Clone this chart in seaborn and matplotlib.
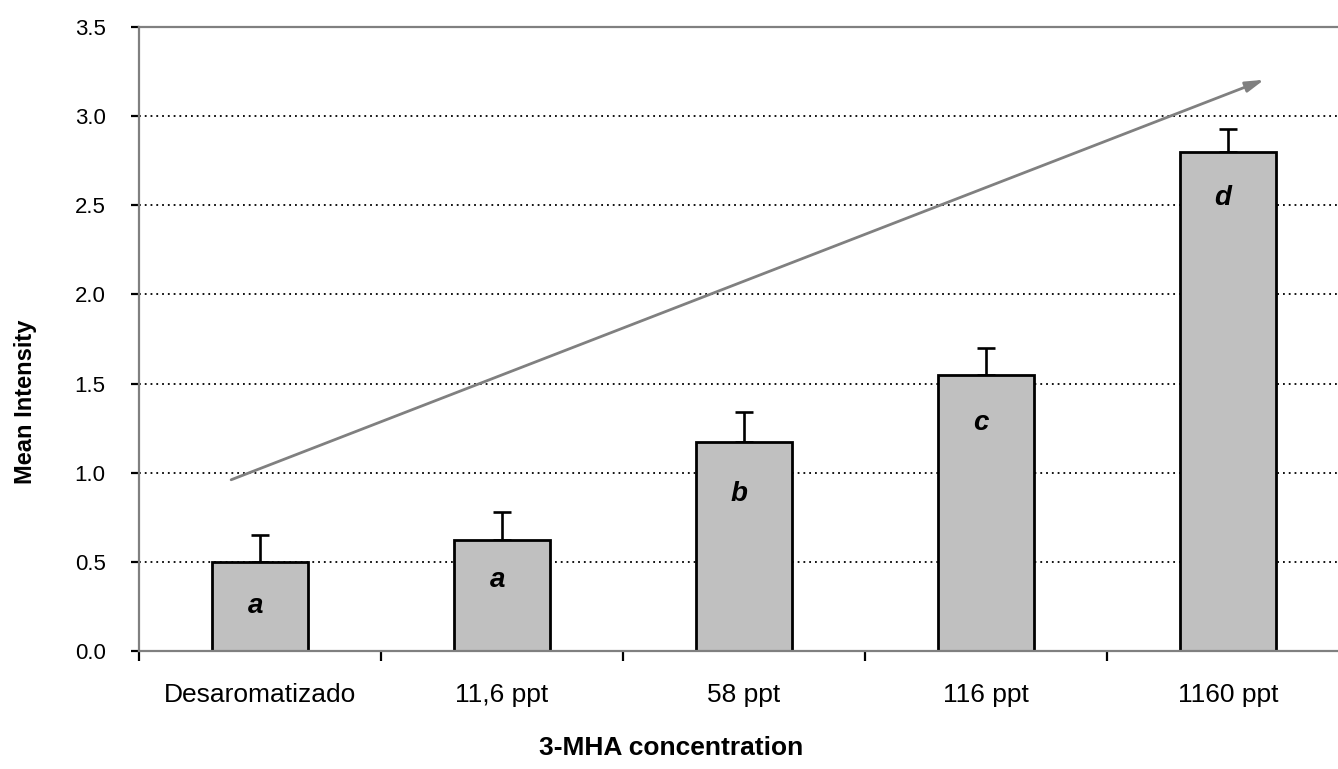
import numpy as np
import matplotlib
matplotlib.use('Agg')
import matplotlib.pyplot as plt
import seaborn as sns

categories = ['Desaromatizado', '11,6 ppt', '58 ppt', '116 ppt', '1160 ppt']
mean_intensity = [0.50, 0.625, 1.17, 1.55, 2.80]
error_up = [0.15, 0.155, 0.17, 0.15, 0.13]
letters = ['a', 'a', 'b', 'c', 'd']
letter_y = [0.25, 0.40, 0.88, 1.28, 2.54]
y_ticks = [0.0, 0.5, 1.0, 1.5, 2.0, 2.5, 3.0, 3.5]

sns.set_style('white')
plt.rcParams['font.family'] = ['Liberation Sans', 'DejaVu Sans']
plt.rcParams['text.color'] = 'black'
plt.rcParams['axes.labelcolor'] = 'black'
plt.rcParams['xtick.color'] = 'black'
plt.rcParams['ytick.color'] = 'black'

fig = plt.figure(figsize=(13.38, 7.69), dpi=100)
ax = fig.add_axes([0.1039, 0.1534, 0.9043, 0.8114])

# dotted gridlines behind the bars
for yv in y_ticks[1:-1]:
    ax.axhline(yv, color='black', lw=1.3, ls=(0, (1, 2.2)), zorder=0)

sns.barplot(x=categories, y=mean_intensity, color='#c0c0c0', saturation=1,
            edgecolor='black', linewidth=2.0, width=0.4, ax=ax, zorder=2)

ax.errorbar(np.arange(len(categories)), mean_intensity,
            yerr=[np.zeros(len(error_up)), error_up], fmt='none',
            ecolor='black', elinewidth=1.9, capsize=6.5, capthick=1.9, zorder=1)

for i, (lt, ly) in enumerate(zip(letters, letter_y)):
    ax.text(i - 0.02, ly, lt, ha='center', va='center', fontsize=20,
            fontweight='bold', fontstyle='italic', zorder=3)

# trend arrow
ax.annotate('', xy=(4.16, 3.21), xytext=(-0.13, 0.955),
            arrowprops=dict(arrowstyle='-|>,head_length=1.1,head_width=0.32',
                            color='#808080', lw=2), zorder=4)

ax.set_xlim(-0.5, 4.5)
ax.set_ylim(0, 3.5)
ax.set_yticks(y_ticks)
ax.set_yticklabels([f'{v:.1f}' for v in y_ticks])
ax.set_xticks(np.arange(len(categories)))
ax.set_xticklabels(categories)
ax.set_xticks(np.arange(-0.5, 4.0, 1.0), minor=True)

ax.tick_params(axis='x', which='major', length=0, pad=23, labelsize=19)
ax.tick_params(axis='x', which='minor', length=7, width=1.6, color='black',
               direction='out', bottom=True)
ax.tick_params(axis='y', length=6, width=1.6, color='black', direction='out',
               pad=18, labelsize=16, left=True)

for side in ['left', 'bottom', 'top']:
    ax.spines[side].set_color('#808080')
    ax.spines[side].set_linewidth(1.6)
ax.spines['right'].set_visible(False)

ax.set_xlabel('3-MHA concentration', fontsize=19, fontweight='bold', va='center')
ax.xaxis.set_label_coords(0.44, -0.155)
ax.set_ylabel('Mean Intensity', fontsize=17, fontweight='bold', va='center')
ax.yaxis.set_label_coords(-0.094, 0.40)

fig.savefig('out.png', dpi=100)
